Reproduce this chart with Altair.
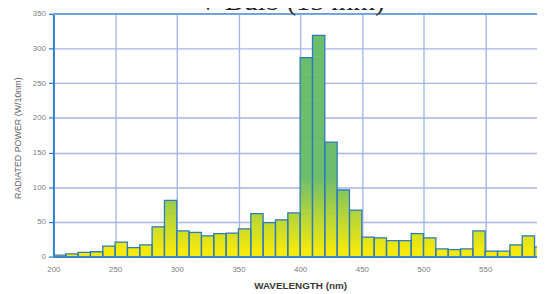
import altair as alt
import pandas as pd

# ---- data ----
wl_start = list(range(200, 600, 10))  # 10 nm bins, 200..590
power = [2, 4, 6, 7, 15, 21, 13, 17, 43, 81,
         37, 35, 30, 33, 34, 40, 62, 49, 53, 63,
         287, 319, 165, 96, 67, 28, 27, 23, 23, 33,
         27, 11, 10, 11, 37, 8, 8, 17, 30, 14]
bin_width = 10
y_ticks = [0, 50, 100, 150, 200, 250, 300, 350]
x_ticks = [200, 250, 300, 350, 400, 450, 500, 550]
title_text = "V Bulb (15 mm)"
x_title = "WAVELENGTH (nm)"
y_title = "RADIATED POWER (W/10nm)"

bars = pd.DataFrame({
    "start": wl_start,
    "end": [w + bin_width for w in wl_start],
    "power": power,
})

# thin horizontal slices so the fill gradient follows the value axis
step = 2
rows = []
for s, p in zip(wl_start, power):
    lo = 0
    while lo < p:
        hi = min(lo + step, p)
        rows.append({"start": s, "end": s + bin_width, "lo": lo,
                     "hi": min(lo + step * 1.5, p), "mid": (lo + hi) / 2})
        lo += step
slices = pd.DataFrame(rows)

blue = "#2f7fd3"
xscale = alt.Scale(domain=[200, 592], nice=False, zero=False)
yscale = alt.Scale(domain=[0, 350], nice=False)

x_axis = alt.Axis(values=x_ticks, grid=True, gridColor="#a6b7ea", gridWidth=1.4,
                  domainColor=blue, domainWidth=2, ticks=False,
                  labelFont="Liberation Sans", labelFontSize=8, labelColor="#7d7d7d",
                  labelPadding=9, labelFlush=False,
                  title=x_title, titleFont="Liberation Sans", titleFontSize=10,
                  titleFontWeight="bold", titleColor="#3a3a3a",
                  titleX=250, titleY=32.5, titleBaseline="alphabetic", titleAnchor=None)
y_axis = alt.Axis(values=y_ticks, grid=True, gridColor="#a6b7ea", gridWidth=1.4,
                  domainColor=blue, domainWidth=2, tickColor=blue, tickSize=5,
                  tickWidth=1.3, labelFont="Liberation Sans", labelFontSize=8,
                  labelColor="#7d7d7d", labelPadding=3,
                  title=y_title, titleFont="Liberation Sans", titleFontSize=9,
                  titleFontWeight="normal", titleColor="#666666",
                  titleX=-36, titleY=125.5, titleAngle=-90, titleAlign="center",
                  titleBaseline="middle")

fill = alt.Chart(slices).mark_rect(strokeWidth=0, clip=True).encode(
    x=alt.X("start:Q", scale=xscale, axis=x_axis),
    x2="end:Q",
    y=alt.Y("lo:Q", scale=yscale, axis=y_axis),
    y2="hi:Q",
    color=alt.Color("mid:Q", legend=None,
                    scale=alt.Scale(domain=[8, 115], range=["#f6ea0a", "#6cbd6c"],
                                    clamp=True, interpolate="rgb")),
)

outline = alt.Chart(bars).mark_rect(fill=None, fillOpacity=0, stroke="#2d7bbd",
                                    strokeWidth=1.3, clip=True).encode(
    x=alt.X("start:Q", scale=xscale, axis=x_axis),
    x2="end:Q",
    y=alt.Y("power:Q", scale=yscale, axis=y_axis),
    y2=alt.datum(0),
)

top = alt.Chart(pd.DataFrame({"v": [y_ticks[-1]]})).mark_rule(
    color="#6b9fe2", strokeWidth=1.8).encode(
    y=alt.Y("v:Q", scale=yscale, axis=y_axis),
)

title = alt.Chart(pd.DataFrame({"t": [title_text]})).mark_text(
    font="Liberation Serif", fontSize=28.6, color="#222222",
    align="center", baseline="alphabetic").encode(
    text="t:N", x=alt.value(241), y=alt.value(-4),
)

chart = alt.layer(fill, outline, top, title).properties(
    width=490, height=246,
    autosize=alt.AutoSizeParams(type="none"),
    padding={"left": 46, "top": 4, "right": 0, "bottom": 36},
).configure_view(stroke=None)

chart.save("out.html", embed_options={"renderer": "svg", "actions": False})
